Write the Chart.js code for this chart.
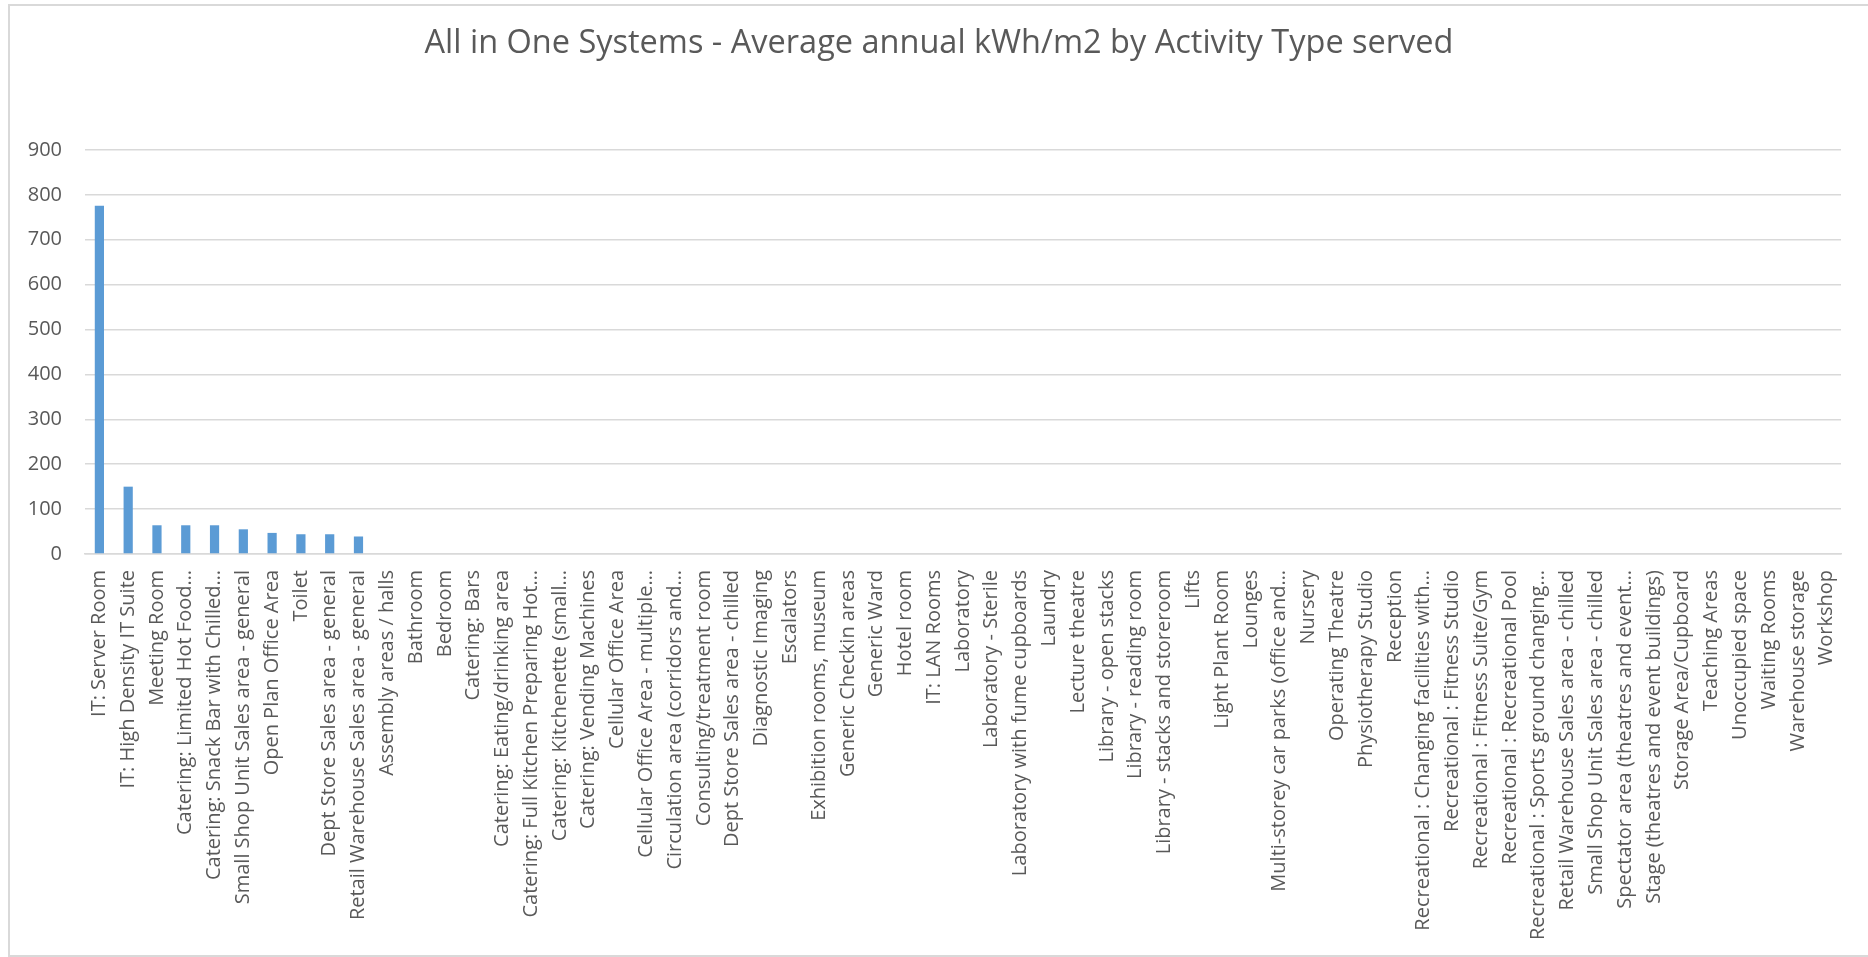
<!DOCTYPE html>
<html>
<head>
<meta charset="utf-8">
<script src="https://cdn.jsdelivr.net/npm/chart.js@4.4.1/dist/chart.umd.min.js"></script>
<style>
  html, body { margin: 0; padding: 0; background: #ffffff; }
  #wrap { position: relative; width: 1868px; height: 957px; }
</style>
</head>
<body>
<div id="wrap"><canvas id="chart" width="1868" height="957"></canvas></div>
<script>
const chartTitle = 'All in One Systems - Average annual kWh/m2 by Activity Type served';

const activityTypes = [
  'IT: Server Room',
  'IT: High Density IT Suite',
  'Meeting Room',
  'Catering: Limited Hot Food…',
  'Catering: Snack Bar with Chilled…',
  'Small Shop Unit Sales area - general',
  'Open Plan Office Area',
  'Toilet',
  'Dept Store Sales area - general',
  'Retail Warehouse Sales area - general',
  'Assembly areas / halls',
  'Bathroom',
  'Bedroom',
  'Catering: Bars',
  'Catering: Eating/drinking area',
  'Catering: Full Kitchen Preparing Hot…',
  'Catering: Kitchenette (small…',
  'Catering: Vending Machines',
  'Cellular Office Area',
  'Cellular Office Area - multiple…',
  'Circulation area (corridors and…',
  'Consulting/treatment room',
  'Dept Store Sales area - chilled',
  'Diagnostic Imaging',
  'Escalators',
  'Exhibition rooms, museum',
  'Generic Checkin areas',
  'Generic Ward',
  'Hotel room',
  'IT: LAN Rooms',
  'Laboratory',
  'Laboratory - Sterile',
  'Laboratory with fume cupboards',
  'Laundry',
  'Lecture theatre',
  'Library - open stacks',
  'Library - reading room',
  'Library - stacks and storeroom',
  'Lifts',
  'Light Plant Room',
  'Lounges',
  'Multi-storey car parks (office and…',
  'Nursery',
  'Operating Theatre',
  'Physiotherapy Studio',
  'Reception',
  'Recreational : Changing facilities with…',
  'Recreational : Fitness Studio',
  'Recreational : Fitness Suite/Gym',
  'Recreational : Recreational Pool',
  'Recreational : Sports ground changing…',
  'Retail Warehouse Sales area - chilled',
  'Small Shop Unit Sales area - chilled',
  'Spectator area (theatres and event…',
  'Stage (theatres and event buildings)',
  'Storage Area/Cupboard',
  'Teaching Areas',
  'Unoccupied space',
  'Waiting Rooms',
  'Warehouse storage',
  'Workshop'
];

// Average annual kWh/m2, same order as activityTypes
const avgKwhPerM2 = [
  776, 150, 64, 64, 64, 55, 47, 44, 44, 39,
  0, 0, 0, 0, 0, 0, 0, 0, 0, 0,
  0, 0, 0, 0, 0, 0, 0, 0, 0, 0,
  0, 0, 0, 0, 0, 0, 0, 0, 0, 0,
  0, 0, 0, 0, 0, 0, 0, 0, 0, 0,
  0, 0, 0, 0, 0, 0, 0, 0, 0, 0,
  0
];

const yTickValues = [0, 100, 200, 300, 400, 500, 600, 700, 800, 900];

const FONT = '"Open Sans", "DejaVu Sans", sans-serif';
const TEXT_GREY = '#595959';
const LINE_GREY = '#d9d9d9';

// Frame around the chart object (its right edge lies past the canvas)
// and the title, centred on the frame rather than on the plot.
const frameAndTitle = {
  id: 'frameAndTitle',
  beforeDraw(chart) {
    const ctx = chart.ctx;
    ctx.save();
    ctx.strokeStyle = LINE_GREY;
    ctx.lineWidth = 2;
    ctx.strokeRect(9, 5, chart.width + 20, chart.height - 6);
    ctx.fillStyle = TEXT_GREY;
    ctx.font = '32.5px ' + FONT;
    ctx.textAlign = 'center';
    ctx.textBaseline = 'alphabetic';
    ctx.fillText(chartTitle, 939, 53);
    ctx.restore();
  }
};

new Chart(document.getElementById('chart'), {
  type: 'bar',
  data: {
    labels: activityTypes,
    datasets: [{
      label: 'Average annual kWh/m2',
      data: avgKwhPerM2,
      backgroundColor: '#5b9bd5',
      borderWidth: 0,
      barPercentage: 0.32,
      categoryPercentage: 1
    }]
  },
  options: {
    responsive: false,
    animation: false,
    layout: { padding: { left: 0, right: 27, top: 150, bottom: 0 } },
    plugins: {
      legend: { display: false },
      tooltip: { enabled: false },
      title: { display: false }
    },
    scales: {
      x: {
        grid: { display: false, drawTicks: false },
        border: { display: true, color: LINE_GREY, width: 1.5 },
        ticks: {
          autoSkip: false,
          minRotation: 90,
          maxRotation: 90,
          padding: 16,
          color: TEXT_GREY,
          font: { family: FONT, size: 20 }
        },
        afterFit(scale) { scale.height = 957 - 554; }
      },
      y: {
        min: 0,
        max: 900,
        afterBuildTicks(scale) { scale.ticks = yTickValues.map(v => ({ value: v })); },
        grid: { color: LINE_GREY, lineWidth: 1.5, drawTicks: false },
        border: { display: false },
        ticks: {
          padding: 23,
          color: TEXT_GREY,
          font: { family: FONT, size: 20 }
        },
        afterFit(scale) { scale.width = 85; }
      }
    }
  },
  plugins: [frameAndTitle]
});
</script>
</body>
</html>
